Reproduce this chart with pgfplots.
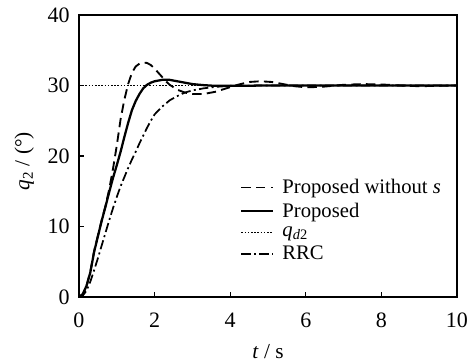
\documentclass[border=0pt]{standalone}
\usepackage{fontspec}
\setmainfont{Liberation Serif}
\usepackage{pgfplots}
\pgfplotsset{compat=1.18}
\begin{document}
\begin{tikzpicture}
\useasboundingbox (-59.25pt,-48.75pt) rectangle (294.75pt,222.75pt);
\begin{axis}[
  at={(0,0)}, anchor=south west,
  scale only axis,
  width=283.5pt, height=211.5pt,
  xmin=0, xmax=10, ymin=0, ymax=40,
  xtick={0,2,4,6,8,10}, ytick={0,10,20,30,40},
  xtick pos=bottom, ytick pos=left,
  tick align=inside, major tick length=4pt,
  /pgf/number format/assume math mode=true,
  tick label style={font=\fontsize{16.5}{18}\selectfont, inner sep=0pt},
  xticklabel style={anchor=center, yshift=-17.25pt},
  yticklabel style={anchor=east, xshift=-6.75pt},
  label style={font=\fontsize{16}{18}\selectfont},
  xlabel={\textit{t} / s},
  xlabel style={at={(axis description cs:0.5,-0.195)}, anchor=center},
  ylabel={\textit{q}\textsubscript{2} / (°)},
  ylabel style={at={(axis description cs:-0.145,0.482)}, anchor=center},
  axis line style={line width=0.8pt},
  every tick/.style={black, line width=0.8pt},
  legend style={draw=none, fill=none, font=\fontsize{15.5}{17}\selectfont,
    at={(rel axis cs:0.426,0.418)}, anchor=north west, row sep=5.5pt,
    column sep=6pt, inner sep=0pt, nodes={inner sep=0pt}},
  legend cell align=left,
  legend image post style={xscale=1.4},
]
\addplot[black, line width=1.4pt, dash pattern=on 7pt off 4pt] coordinates {
(0,0) (0.1,0.4) (0.2,1.6) (0.3,3.6) (0.4,6.5) (0.5,8.7) (0.6,10.9) (0.7,12.9)
(0.8,15.3) (0.9,18.2) (1.0,21.5) (1.1,25.2) (1.2,28.0) (1.3,30.2) (1.4,31.8)
(1.5,32.7) (1.6,33.1) (1.7,33.25) (1.8,33.2) (1.9,32.9) (2.0,32.4) (2.1,31.8)
(2.2,31.2) (2.3,30.6) (2.4,30.1) (2.6,29.4) (2.8,29.0) (3.0,28.8) (3.3,28.8)
(3.6,29.1) (3.9,29.6) (4.2,30.1) (4.5,30.5) (4.8,30.6) (5.1,30.5) (5.4,30.2)
(5.7,29.9) (6.0,29.75) (6.4,29.8) (7.0,30.1) (7.5,30.2) (8.0,30.15) (8.5,30.0)
(9.0,29.9) (9.5,29.95) (10,30)};
\addlegendentry{Proposed without \textit{s}}
\addplot[black, line width=1.7pt] coordinates {
(0,0) (0.1,0.4) (0.2,1.6) (0.3,3.5) (0.4,6.4) (0.5,8.6) (0.6,10.8) (0.7,12.8)
(0.8,14.9) (0.9,16.9) (1.0,18.7) (1.1,20.6) (1.2,22.7) (1.3,24.7) (1.4,26.5)
(1.5,27.8) (1.6,28.8) (1.7,29.6) (1.8,30.1) (1.9,30.4) (2.0,30.6) (2.2,30.8)
(2.4,30.8) (2.6,30.6) (2.8,30.4) (3.0,30.2) (3.3,30.05) (3.6,29.95) (4.0,29.95)
(5.0,30) (10,30)};
\addlegendentry{Proposed}
\addplot[black, line width=1.2pt, dash pattern=on 1.2pt off 1.2pt] coordinates {(0,30) (10,30)};
\addlegendentry{\textit{q}\textsubscript{\textit{d}2}}
\addplot[black, line width=1.3pt, dash pattern=on 7pt off 2.5pt on 1.5pt off 2.5pt] coordinates {
(0,0) (0.1,0.2) (0.2,0.9) (0.3,2.2) (0.4,3.8) (0.5,5.5) (0.6,7.3) (0.7,9.1)
(0.8,10.9) (0.9,12.6) (1.0,14.2) (1.1,15.7) (1.2,17.0) (1.3,18.3) (1.4,19.5)
(1.5,20.6) (1.6,21.8) (1.7,22.9) (1.8,24.0) (1.9,25.0) (2.0,25.9) (2.2,27.0)
(2.4,27.9) (2.6,28.5) (2.8,29.0) (3.0,29.3) (3.3,29.6) (3.6,29.8) (4.0,29.95)
(5.0,30) (10,30)};
\addlegendentry{RRC}
\end{axis}
\end{tikzpicture}
\end{document}
